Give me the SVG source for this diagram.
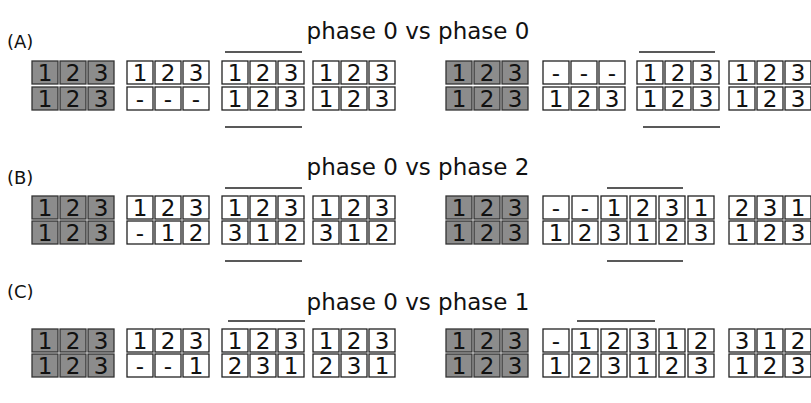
<svg xmlns="http://www.w3.org/2000/svg" width="811" height="403" viewBox="0 0 811 403">
<style>
.w{fill:#fff;stroke:#222;stroke-width:1.3}
.g{fill:#8c8c8c;stroke:#333;stroke-width:1.3}
.t{font-family:"DejaVu Sans",sans-serif;font-size:23px;text-anchor:middle;fill:#111}
.h{font-family:"DejaVu Sans",sans-serif;font-size:23px;text-anchor:middle;fill:#111}
.l{font-family:"DejaVu Sans",sans-serif;font-size:18px;fill:#111}
.ln{stroke:#222;stroke-width:1.5;fill:none}
</style>
<defs>
<g id="gray">
<rect class="g" x="0" y="0" width="26" height="23"/><rect class="g" x="28" y="0" width="26" height="23"/><rect class="g" x="56" y="0" width="26" height="23"/>
<text class="t" x="13" y="20">1</text><text class="t" x="41" y="20">2</text><text class="t" x="69" y="20">3</text>
</g>
<rect id="c" class="w" width="26" height="23"/>
</defs>
<rect width="811" height="403" fill="#fff"/>

<g id="titles">
<text class="l" x="7" y="48">(A)</text>
<text class="h" x="418" y="39">phase 0 vs phase 0</text>
<text class="l" x="7" y="184">(B)</text>
<text class="h" x="418" y="175">phase 0 vs phase 2</text>
<text class="l" x="7" y="298">(C)</text>
<text class="h" x="418" y="310">phase 0 vs phase 1</text>
</g>

<!-- Panel A left -->
<g id="A-left">
<use href="#gray" x="32" y="61"/><use href="#gray" x="32" y="87"/>
<g transform="translate(0,61)">
<use href="#c" x="127"/><use href="#c" x="155"/><use href="#c" x="183"/>
<use href="#c" x="222"/><use href="#c" x="250"/><use href="#c" x="278"/>
<use href="#c" x="313"/><use href="#c" x="341"/><use href="#c" x="369"/>
<text class="t" x="140" y="20">1</text><text class="t" x="168" y="20">2</text><text class="t" x="196" y="20">3</text>
<text class="t" x="235" y="20">1</text><text class="t" x="263" y="20">2</text><text class="t" x="291" y="20">3</text>
<text class="t" x="326" y="20">1</text><text class="t" x="354" y="20">2</text><text class="t" x="382" y="20">3</text>
</g>
<g transform="translate(0,87)">
<use href="#c" x="127"/><use href="#c" x="155"/><use href="#c" x="183"/>
<use href="#c" x="222"/><use href="#c" x="250"/><use href="#c" x="278"/>
<use href="#c" x="313"/><use href="#c" x="341"/><use href="#c" x="369"/>
<text class="t" x="140" y="20">-</text><text class="t" x="168" y="20">-</text><text class="t" x="196" y="20">-</text>
<text class="t" x="235" y="20">1</text><text class="t" x="263" y="20">2</text><text class="t" x="291" y="20">3</text>
<text class="t" x="326" y="20">1</text><text class="t" x="354" y="20">2</text><text class="t" x="382" y="20">3</text>
</g>
</g>

<!-- Panel A right -->
<g id="A-right">
<use href="#gray" x="446" y="61"/><use href="#gray" x="446" y="87"/>
<g transform="translate(0,61)">
<use href="#c" x="543"/><use href="#c" x="571"/><use href="#c" x="599"/>
<use href="#c" x="637"/><use href="#c" x="665"/><use href="#c" x="693"/>
<use href="#c" x="729"/><use href="#c" x="757"/><use href="#c" x="785"/>
<text class="t" x="556" y="20">-</text><text class="t" x="584" y="20">-</text><text class="t" x="612" y="20">-</text>
<text class="t" x="650" y="20">1</text><text class="t" x="678" y="20">2</text><text class="t" x="706" y="20">3</text>
<text class="t" x="742" y="20">1</text><text class="t" x="770" y="20">2</text><text class="t" x="798" y="20">3</text>
</g>
<g transform="translate(0,87)">
<use href="#c" x="543"/><use href="#c" x="571"/><use href="#c" x="599"/>
<use href="#c" x="637"/><use href="#c" x="665"/><use href="#c" x="693"/>
<use href="#c" x="729"/><use href="#c" x="757"/><use href="#c" x="785"/>
<text class="t" x="556" y="20">1</text><text class="t" x="584" y="20">2</text><text class="t" x="612" y="20">3</text>
<text class="t" x="650" y="20">1</text><text class="t" x="678" y="20">2</text><text class="t" x="706" y="20">3</text>
<text class="t" x="742" y="20">1</text><text class="t" x="770" y="20">2</text><text class="t" x="798" y="20">3</text>
</g>
</g>

<!-- Panel B left -->
<g id="B-left">
<use href="#gray" x="32" y="196"/><use href="#gray" x="32" y="221"/>
<g transform="translate(0,196)">
<use href="#c" x="127"/><use href="#c" x="155"/><use href="#c" x="183"/>
<use href="#c" x="222"/><use href="#c" x="250"/><use href="#c" x="278"/>
<use href="#c" x="313"/><use href="#c" x="341"/><use href="#c" x="369"/>
<text class="t" x="140" y="20">1</text><text class="t" x="168" y="20">2</text><text class="t" x="196" y="20">3</text>
<text class="t" x="235" y="20">1</text><text class="t" x="263" y="20">2</text><text class="t" x="291" y="20">3</text>
<text class="t" x="326" y="20">1</text><text class="t" x="354" y="20">2</text><text class="t" x="382" y="20">3</text>
</g>
<g transform="translate(0,221)">
<use href="#c" x="127"/><use href="#c" x="155"/><use href="#c" x="183"/>
<use href="#c" x="222"/><use href="#c" x="250"/><use href="#c" x="278"/>
<use href="#c" x="313"/><use href="#c" x="341"/><use href="#c" x="369"/>
<text class="t" x="140" y="20">-</text><text class="t" x="168" y="20">1</text><text class="t" x="196" y="20">2</text>
<text class="t" x="235" y="20">3</text><text class="t" x="263" y="20">1</text><text class="t" x="291" y="20">2</text>
<text class="t" x="326" y="20">3</text><text class="t" x="354" y="20">1</text><text class="t" x="382" y="20">2</text>
</g>
</g>

<!-- Panel B right -->
<g id="B-right">
<use href="#gray" x="446" y="196"/><use href="#gray" x="446" y="221"/>
<g transform="translate(0,196)">
<use href="#c" x="543"/><use href="#c" x="572"/><use href="#c" x="601"/>
<use href="#c" x="630"/><use href="#c" x="659"/><use href="#c" x="688"/>
<use href="#c" x="729"/><use href="#c" x="757"/><use href="#c" x="785"/>
<text class="t" x="556" y="20">-</text><text class="t" x="585" y="20">-</text><text class="t" x="614" y="20">1</text>
<text class="t" x="643" y="20">2</text><text class="t" x="672" y="20">3</text><text class="t" x="701" y="20">1</text>
<text class="t" x="742" y="20">2</text><text class="t" x="770" y="20">3</text><text class="t" x="798" y="20">1</text>
</g>
<g transform="translate(0,221)">
<use href="#c" x="543"/><use href="#c" x="572"/><use href="#c" x="601"/>
<use href="#c" x="630"/><use href="#c" x="659"/><use href="#c" x="688"/>
<use href="#c" x="729"/><use href="#c" x="757"/><use href="#c" x="785"/>
<text class="t" x="556" y="20">1</text><text class="t" x="585" y="20">2</text><text class="t" x="614" y="20">3</text>
<text class="t" x="643" y="20">1</text><text class="t" x="672" y="20">2</text><text class="t" x="701" y="20">3</text>
<text class="t" x="742" y="20">1</text><text class="t" x="770" y="20">2</text><text class="t" x="798" y="20">3</text>
</g>
</g>

<!-- Panel C left -->
<g id="C-left">
<use href="#gray" x="32" y="329"/><use href="#gray" x="32" y="354"/>
<g transform="translate(0,329)">
<use href="#c" x="127"/><use href="#c" x="155"/><use href="#c" x="183"/>
<use href="#c" x="222"/><use href="#c" x="250"/><use href="#c" x="278"/>
<use href="#c" x="313"/><use href="#c" x="341"/><use href="#c" x="369"/>
<text class="t" x="140" y="20">1</text><text class="t" x="168" y="20">2</text><text class="t" x="196" y="20">3</text>
<text class="t" x="235" y="20">1</text><text class="t" x="263" y="20">2</text><text class="t" x="291" y="20">3</text>
<text class="t" x="326" y="20">1</text><text class="t" x="354" y="20">2</text><text class="t" x="382" y="20">3</text>
</g>
<g transform="translate(0,354)">
<use href="#c" x="127"/><use href="#c" x="155"/><use href="#c" x="183"/>
<use href="#c" x="222"/><use href="#c" x="250"/><use href="#c" x="278"/>
<use href="#c" x="313"/><use href="#c" x="341"/><use href="#c" x="369"/>
<text class="t" x="140" y="20">-</text><text class="t" x="168" y="20">-</text><text class="t" x="196" y="20">1</text>
<text class="t" x="235" y="20">2</text><text class="t" x="263" y="20">3</text><text class="t" x="291" y="20">1</text>
<text class="t" x="326" y="20">2</text><text class="t" x="354" y="20">3</text><text class="t" x="382" y="20">1</text>
</g>
</g>

<!-- Panel C right -->
<g id="C-right">
<use href="#gray" x="446" y="329"/><use href="#gray" x="446" y="354"/>
<g transform="translate(0,329)">
<use href="#c" x="543"/><use href="#c" x="572"/><use href="#c" x="601"/>
<use href="#c" x="630"/><use href="#c" x="659"/><use href="#c" x="688"/>
<use href="#c" x="729"/><use href="#c" x="757"/><use href="#c" x="785"/>
<text class="t" x="556" y="20">-</text><text class="t" x="585" y="20">1</text><text class="t" x="614" y="20">2</text>
<text class="t" x="643" y="20">3</text><text class="t" x="672" y="20">1</text><text class="t" x="701" y="20">2</text>
<text class="t" x="742" y="20">3</text><text class="t" x="770" y="20">1</text><text class="t" x="798" y="20">2</text>
</g>
<g transform="translate(0,354)">
<use href="#c" x="543"/><use href="#c" x="572"/><use href="#c" x="601"/>
<use href="#c" x="630"/><use href="#c" x="659"/><use href="#c" x="688"/>
<use href="#c" x="729"/><use href="#c" x="757"/><use href="#c" x="785"/>
<text class="t" x="556" y="20">1</text><text class="t" x="585" y="20">2</text><text class="t" x="614" y="20">3</text>
<text class="t" x="643" y="20">1</text><text class="t" x="672" y="20">2</text><text class="t" x="701" y="20">3</text>
<text class="t" x="742" y="20">1</text><text class="t" x="770" y="20">2</text><text class="t" x="798" y="20">3</text>
</g>
</g>

<g id="marks">
<line class="ln" x1="225" y1="52" x2="302" y2="52"/>
<line class="ln" x1="225" y1="127" x2="302" y2="127"/>
<line class="ln" x1="639" y1="52" x2="715" y2="52"/>
<line class="ln" x1="643" y1="127" x2="720" y2="127"/>
<line class="ln" x1="225" y1="188" x2="302" y2="188"/>
<line class="ln" x1="225" y1="261" x2="302" y2="261"/>
<line class="ln" x1="607" y1="188" x2="683" y2="188"/>
<line class="ln" x1="607" y1="261" x2="683" y2="261"/>
<line class="ln" x1="228" y1="321" x2="305" y2="321"/>
<line class="ln" x1="577" y1="321" x2="655" y2="321"/>
</g>
</svg>
